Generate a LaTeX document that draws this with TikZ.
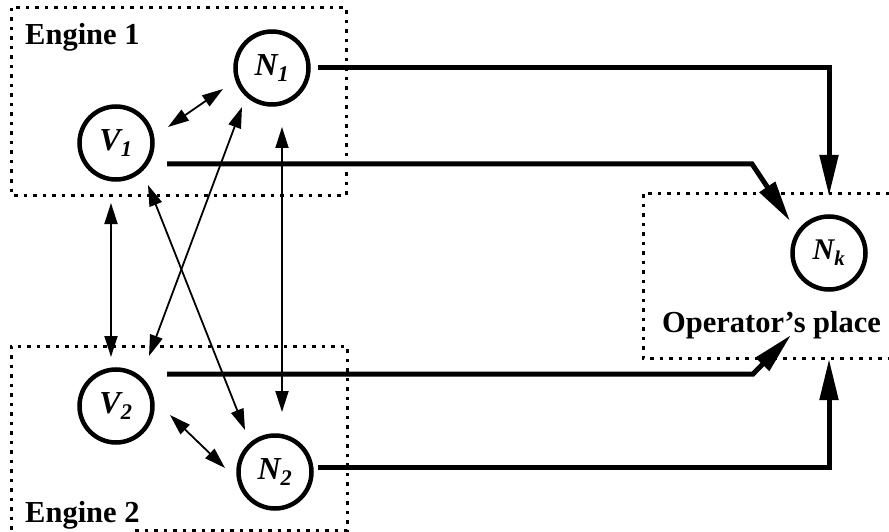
\documentclass[tikz,border=0pt]{standalone}
\usepackage{fontspec}
\setmainfont{Liberation Serif}
\usetikzlibrary{arrows.meta,calc}
\begin{document}
\begin{tikzpicture}[x=1pt,y=-1pt,
  state/.style={circle,draw,line width=4.5pt,minimum size=73pt,inner sep=0pt,
    font=\fontsize{32}{38}\selectfont\bfseries\itshape},
  thinarr/.style={line width=1.8pt,{Triangle[length=21pt,width=13pt]}-{Triangle[length=21pt,width=13pt]}},
  thickarr/.style={line width=5pt,-{Triangle[length=41pt,width=18pt]}},
  dotbox/.style={line width=3pt,dash pattern=on 3.5pt off 6pt},
  lbl/.style={font=\fontsize{30.5}{36}\selectfont\bfseries,inner sep=0pt,anchor=base west}]
\useasboundingbox (0,0) rectangle (889,532);
% boxes
\draw[dotbox] (11,8) rectangle (346,195);
\draw[dotbox] (135,530) -- (347,530) -- (347,346) -- (11,346) -- (11,530);
\draw[dotbox] (889,193) -- (643,193) -- (643,358) -- (889,358);
% labels
\node[lbl] (e1) at (25,45) {Engine 1};
\node[lbl] (e2) at (25,522) {Engine 2};
\node[lbl] (op) at (662,332) {Operator’s place};
% states
\node[state] (n1) at (272,68) {N\textsubscript{1}};
\node[state] (v1) at (116,143) {V\textsubscript{1}};
\node[state] (v2) at (116,406) {V\textsubscript{2}};
\node[state] (n2) at (275,472) {N\textsubscript{2}};
\node[state,font=\fontsize{30}{36}\selectfont\bfseries\itshape] (nk) at (829,253) {N\textsubscript{k}};
% thin arrows
\draw[thinarr] ($(v1)+(52,-16)$) -- ($(n1)+(-49,21)$);
\draw[thinarr] ($(v1)+(-5,60)$) -- ($(v2)+(-5,-49)$);
\draw[thinarr] ($(n1)+(-30,39)$) -- ($(v2)+(33,-50)$);
\draw[thinarr] ($(v1)+(32,42)$) -- ($(n2)+(-30,-42)$);
\draw[thinarr] ($(n1)+(10,59)$) -- ($(n2)+(7,-60)$);
\draw[thinarr] ($(v2)+(54,9)$) -- ($(n2)+(-50,-4)$);
% thick arrows
\draw[thickarr] ($(n1)+(46,0)$) -| ($(nk)+(0,-57)$);
\draw[thickarr] ($(v1)+(51,21)$) -- ++(585,0) -- ($(nk)+(-39,-32)$);
\draw[thickarr] ($(v2)+(51,-32)$) -- ++(586,0) -- ($(nk)+(-38,82)$);
\draw[thickarr] ($(n2)+(43,-5)$) -| ($(nk)+(0,106)$);
\end{tikzpicture}
\end{document}
